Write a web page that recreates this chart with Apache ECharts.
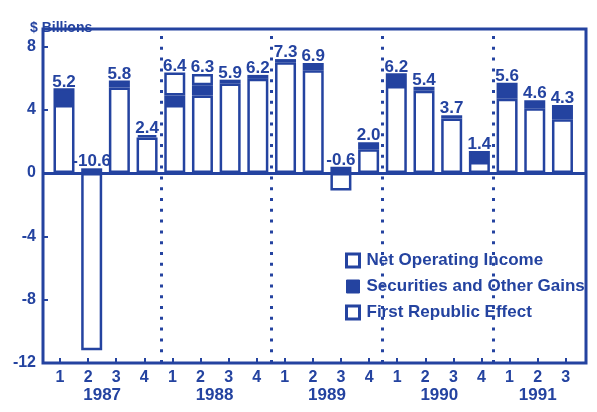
<!DOCTYPE html>
<html>
<head>
<meta charset="utf-8">
<script src="https://cdn.jsdelivr.net/npm/echarts@6/dist/echarts.min.js"></script>
<style>
html,body{margin:0;padding:0;background:#fff;}
#chart{width:597px;height:412px;}
</style>
</head>
<body>
<div id="chart"></div>
<script>
// ---- data ----
var quarterIndex = [0,1,2,3,4,5,6,7,8,9,10,11,12,13,14,15,16,17,18];
var quarterLabels = ['1','2','3','4','1','2','3','4','1','2','3','4','1','2','3','4','1','2','3'];
var yearLabels = ['1987','1988','1989','1990','1991'];
var yearCenters = [1.5, 5.5, 9.5, 13.5, 17];
var yearBreaks = [3.5, 7.5, 11.5, 15.5];
var netOperatingIncome = [4.3,-11.2,5.4,2.25,4.3,4.9,5.65,5.95,7.0,6.5,-1.1,1.5,5.5,5.2,3.45,0.7,4.7,4.1,3.4];
var securitiesGains    = [1.05,0.3,0.45,0.15,0.6,0.65,0.25,0.25,0.2,0.45,0.4,0.45,0.8,0.25,0.2,0.7,1.0,0.5,0.9];
var firstRepublic      = [null,null,null,null,1.45,0.7,null,null,null,null,null,null,null,null,null,null,null,null,null];
var totalLabels = ['5.2','-10.6','5.8','2.4','6.4','6.3','5.9','6.2','7.3','6.9','-0.6','2.0','6.2','5.4','3.7','1.4','5.6','4.6','4.3'];
var yTicks = [-12,-8,-4,0,4,8];

var BLUE = '#2443a0';
var FONT = '"Liberation Sans", Arial, Helvetica, sans-serif';

// rows are [value, quarter position]; encode maps column 1 to x and column 0 to y
function rows(arr){ return arr.map(function(v,i){ return [v == null ? '-' : v, quarterIndex[i]]; }); }

var chart = echarts.init(document.getElementById('chart'), null, {renderer:'canvas'});
var barW = 21;
var enc = {x: 1, y: 0};
var option = {
  animation: false,
  backgroundColor: '#fff',
  title: {
    text: '$ Billions', left: 25, top: 16,
    textStyle: {color: BLUE, fontSize: 14, fontWeight: 'bold', fontFamily: FONT}
  },
  grid: {left: 43, right: 11, top: 29, bottom: 49, show: true, borderColor: BLUE, borderWidth: 3, backgroundColor: 'transparent'},
  legend: {
    orient: 'vertical', left: 340, top: 247, itemWidth: 13, itemHeight: 13, itemGap: 9,
    icon: 'rect', selectedMode: false,
    textStyle: {color: BLUE, fontSize: 17, fontWeight: 'bold', fontFamily: FONT, padding: [0,0,0,2]},
    data: [
      {name: 'Net Operating Income', itemStyle: {color: '#fff', borderColor: BLUE, borderWidth: 3}},
      {name: 'Securities and Other Gains', itemStyle: {color: BLUE, borderColor: BLUE, borderWidth: 1}},
      {name: 'First Republic Effect', itemStyle: {color: '#fff', borderColor: BLUE, borderWidth: 3}}
    ]
  },
  xAxis: [
    {type: 'value', min: -0.758, max: 18.85, show: false},
    {type: 'value', min: -0.605, max: 18.72, position: 'bottom',
     axisLine: {show: false}, splitLine: {show: false},
     axisTick: {show: true, inside: true, length: 5, customValues: quarterIndex, lineStyle: {color: BLUE, width: 2}},
     axisLabel: {customValues: quarterIndex, margin: 7, color: BLUE, fontSize: 16, fontWeight: 'bold', fontFamily: FONT,
       formatter: function(v){ var k = quarterIndex.indexOf(Math.round(v)); return k >= 0 ? quarterLabels[k] : ''; }}
    },
    {type: 'value', min: -0.605, max: 18.72, position: 'bottom',
     axisLine: {show: false}, splitLine: {show: false}, axisTick: {show: false},
     axisLabel: {customValues: yearCenters, margin: 24, color: BLUE, fontSize: 17, fontWeight: 'bold', fontFamily: FONT,
       formatter: function(v){ var k = yearCenters.indexOf(v); return k >= 0 ? yearLabels[k] : ''; }}
    }
  ],
  yAxis: {
    type: 'value', min: -12, max: 9.1, interval: 4,
    axisLine: {show: false, onZero: false}, splitLine: {show: false},
    axisTick: {show: true, inside: true, length: 5, customValues: yTicks, lineStyle: {color: BLUE, width: 2}},
    axisLabel: {customValues: yTicks, margin: 7, color: BLUE, fontSize: 16, fontWeight: 'bold', fontFamily: FONT}
  },
  series: [
    {
      name: 'Net Operating Income', type: 'bar', stack: 'a', xAxisIndex: 0, barWidth: barW, encode: enc,
      data: rows(netOperatingIncome),
      itemStyle: {color: '#fff', borderColor: BLUE, borderWidth: 2.5},
      markLine: {
        silent: true, symbol: ['none','none'], label: {show: false},
        lineStyle: {color: BLUE, width: 3, type: [3, 7.8]},
        data: yearBreaks.map(function(b){ return {xAxis: b}; }).concat([
          {yAxis: 0, lineStyle: {type: 'solid', width: 3, color: BLUE}}
        ])
      }
    },
    {
      name: 'Securities and Other Gains', type: 'bar', stack: 'a', xAxisIndex: 0, barWidth: barW, encode: enc,
      data: rows(securitiesGains),
      itemStyle: {color: BLUE, borderColor: BLUE, borderWidth: 2.5}
    },
    {
      name: 'First Republic Effect', type: 'bar', stack: 'a', xAxisIndex: 0, barWidth: barW, encode: enc,
      data: rows(firstRepublic),
      itemStyle: {color: '#fff', borderColor: BLUE, borderWidth: 2.5}
    },
    {
      name: 'Total', type: 'bar', stack: 'a', xAxisIndex: 0, barWidth: barW, encode: enc,
      data: quarterIndex.map(function(i){ return [0, i]; }),
      itemStyle: {color: 'rgba(0,0,0,0)', borderWidth: 0},
      label: {show: true, position: 'top', distance: -2, color: BLUE, fontSize: 17, fontWeight: 'bold', fontFamily: FONT,
        formatter: function(p){ return totalLabels[p.dataIndex]; }}
    }
  ]
};
chart.setOption(option);
</script>
</body>
</html>
